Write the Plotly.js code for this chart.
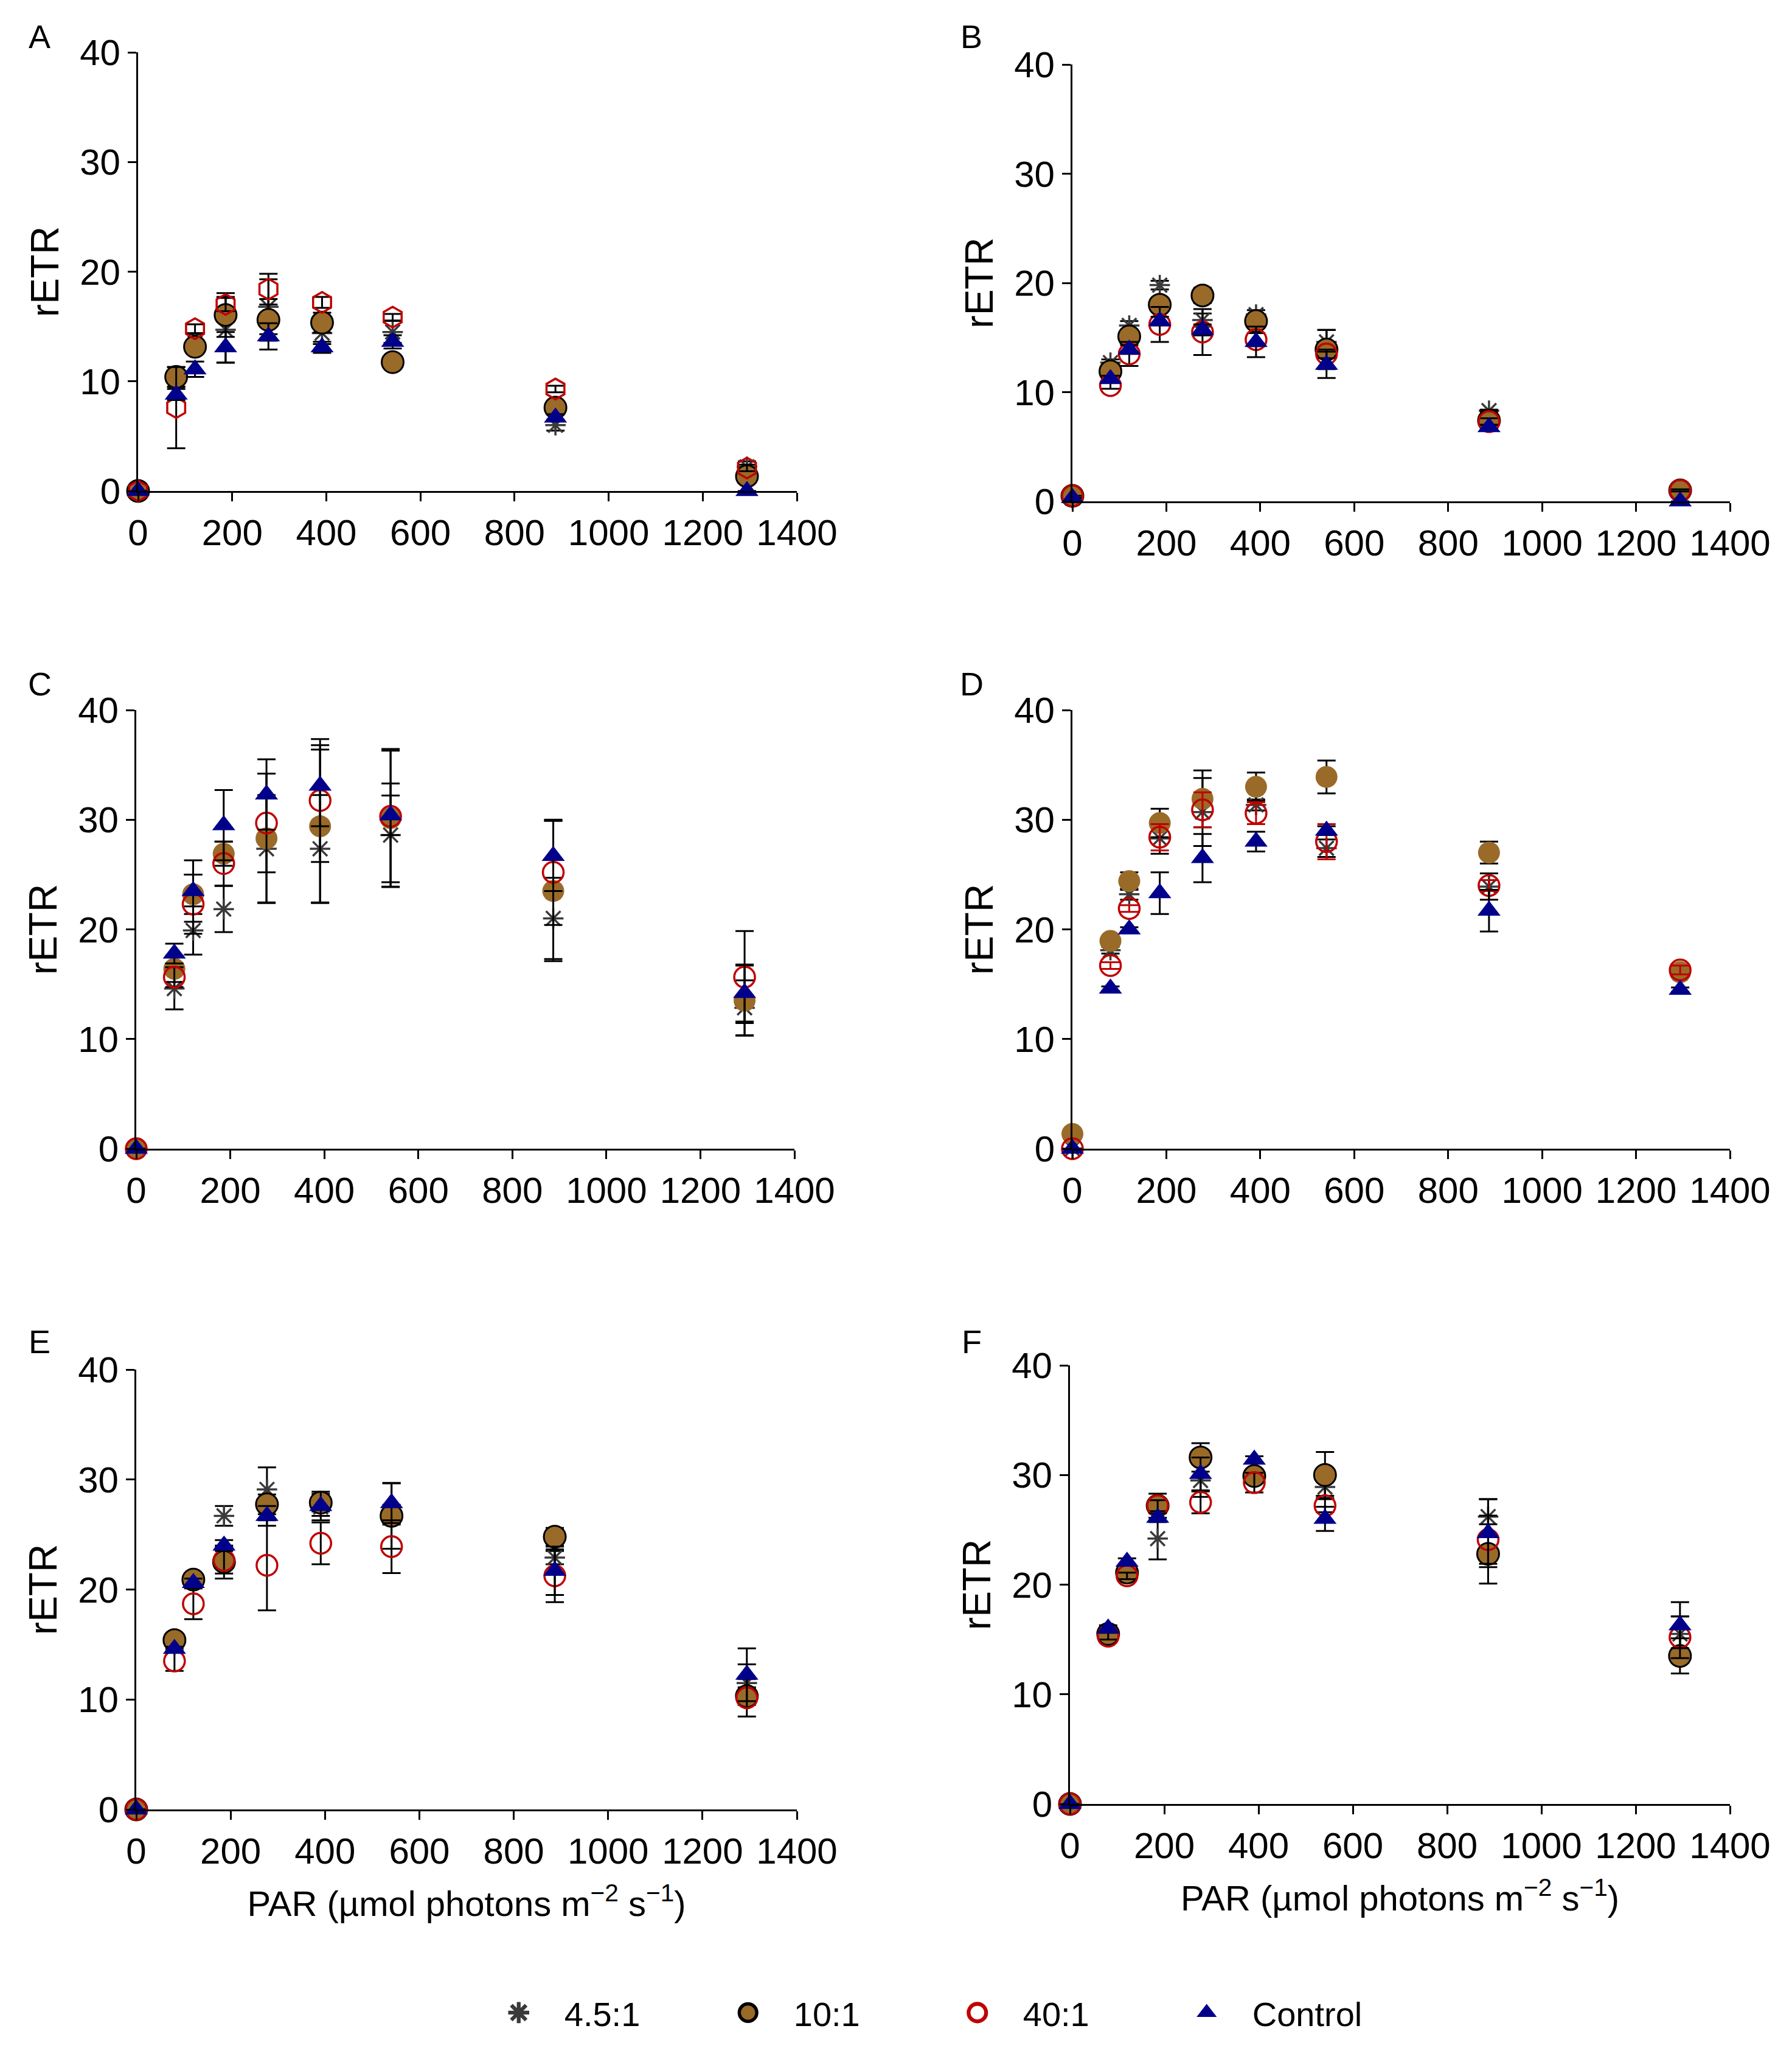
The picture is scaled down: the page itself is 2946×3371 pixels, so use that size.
<!DOCTYPE html>
<html>
<head>
<meta charset="utf-8">
<script src="https://cdn.plot.ly/plotly-3.0.1.min.js"></script>
<style>
  html, body { margin: 0; padding: 0; background: #fff; }
  #chart { width: 2946px; height: 3371px; }
</style>
</head>
<body>
<div id="chart"></div>
<script>
// PAR steps of the rapid light curve (µmol photons m-2 s-1)
const PAR = [0, 81, 121, 186, 277, 391, 541, 887, 1294]
const seriesNames = ['4.5:1', '10:1', '40:1', 'Control']
const panelLetters = ['A', 'B', 'C', 'D', 'E', 'F']

// panel A
const aAst = [0, 10.0, 13.5, 14.7, 16.8, 14.4, 14.5, 6.0, 2.2]
const aAstErr = [null, 0.5, 0.8, 3.0, 2.5, 1.0, 1.0, 0.5, 0.5]
const a10 = [0, 10.4, 13.15, 16.05, 15.6, 15.35, 11.75, 7.6, 1.35]
const a10Err = [null, 0.9, 0.6, 2.0, 1.9, 0.9, 0.5, 0.4, 0.4]
const a40 = [0, 7.6, 14.8, 17.0, 18.4, 17.2, 15.85, 9.3, 2.1]
const a40Err = [null, 3.7, 0.4, 0.6, 1.4, 0.5, 0.3, 0.3, 0.3]
const aCtl = [0, 8.8, 11.1, 13.1, 14.1, 13.1, 13.6, 6.7, 0]
const aCtlErr = [null, 0.5, 0.7, 1.4, 1.2, 0.5, 0.6, 0.3, null]

// panel B
const bAst = [0.3, 12.7, 16.1, 19.8, 16.6, 17.1, 14.6, 8.3, 0.8]
const bAstErr = [null, 0.3, 0.4, 0.4, 0.6, 0.4, 1.1, 0.1, 0.1]
const b10 = [0.5, 11.9, 15.1, 18.0, 18.85, 16.5, 13.9, 7.4, 1.0]
const b10Err = [null, 0.4, 0.3, 0.4, 0.7, 0.4, 1.8, 0.9, 0.1]
const b40 = [0.5, 10.6, 13.5, 16.2, 15.5, 14.8, 13.5, 7.3, 1.0]
const b40Err = [null, 0.3, 1.1, 1.6, 2.1, 0.6, 0.4, 0.3, 0.1]
const bCtl = [0.3, 11.2, 13.9, 16.5, 15.7, 14.6, 12.5, 6.8, 0]
const bCtlErr = [null, 0.3, 0.4, 0.4, 0.5, 1.4, 1.2, 0.2, null]

// panel C
const cAst = [0, 14.6, 19.9, 21.85, 27.35, 27.35, 28.6, 21.0, 12.85]
const cAstErr = [null, 1.9, 2.2, 2.1, 4.9, 4.9, 4.7, 3.7, 2.5]
const c10 = [0, 16.4, 23.2, 26.9, 28.3, 29.4, 30.15, 23.5, 13.5]
const c10Err = [null, 1.2, 1.8, 1.1, 5.9, 7.0, 6.3, 6.4, 3.2]
const c40 = [0, 15.65, 22.3, 26.0, 29.7, 31.75, 30.3, 25.2, 15.65]
const c40Err = [null, 0.9, 2.7, 2.0, 4.5, 5.6, 6.0, 4.8, 4.2]
const cCtl = [0, 17.8, 23.5, 29.5, 32.3, 33.1, 30.4, 26.7, 14.2]
const cCtlErr = [null, 0.9, 2.8, 3.2, 3.2, 3.7, 1.8, 3.2, 2.6]

// panel D
const dAst = [0, 18.1, 23.2, 28.3, 30.7, 31.35, 27.4, 23.9, 16.0]
const dAstErr = [null, 0.3, 0.5, 1.4, 3.1, 0.5, 0.8, 1.2, 0.3]
const d10 = [1.35, 18.95, 24.4, 29.7, 31.9, 33.0, 33.9, 27.0, 16.1]
const d10Err = [null, 0.3, 0.8, 1.3, 2.6, 1.3, 1.5, 1.0, 0.3]
const d40 = [0, 16.7, 21.9, 28.4, 30.9, 30.6, 28.0, 24.0, 16.3]
const d40Err = [null, 0.3, 0.3, 1.2, 1.6, 1.0, 1.6, 0.5, 0.4]
const dCtl = [0, 14.6, 20.0, 23.3, 26.5, 28.0, 29.0, 21.7, 14.5]
const dCtlErr = [null, 0.2, 0.2, 1.9, 2.2, 0.9, 0.4, 1.9, 0.2]

// panel E
const eAst = [0, 15.0, 20.8, 26.7, 29.1, 27.5, 26.8, 22.9, 11.5]
const eAstErr = [null, 0.4, 0.5, 0.9, 2.0, 0.8, 0.9, 0.6, 1.7]
const e10 = [0, 15.4, 20.9, 22.5, 27.75, 27.9, 26.7, 24.8, 10.3]
const e10Err = [null, 0.3, 0.5, 1.5, 0.9, 0.8, 3.0, 0.8, 0.8]
const e40 = [0, 13.5, 18.7, 22.65, 22.2, 24.2, 23.9, 21.25, 10.15]
const e40Err = [null, 0.9, 1.4, 1.2, 4.1, 1.9, 2.4, 2.4, 1.7]
const eCtl = [0, 14.6, 20.6, 24.0, 26.7, 27.6, 27.85, 21.7, 12.25]
const eCtlErr = [null, 0.2, 0.4, 0.5, 0.9, 1.3, 1.8, 2.2, 2.4]

// panel F
const fAst = [0, 15.5, 21.0, 24.2, 29.5, 30.0, 28.9, 26.2, 15.5]
const fAstErr = [null, 0.3, 0.3, 1.9, 1.5, 0.5, 0.8, 1.6, 1.6]
const f10 = [0, 15.5, 21.1, 27.2, 31.6, 29.9, 30.0, 22.8, 13.5]
const f10Err = [null, 0.3, 0.3, 1.1, 1.3, 0.4, 2.1, 2.7, 1.6]
const f40 = [0, 15.3, 20.8, 27.2, 27.5, 29.3, 27.2, 24.1, 15.2]
const f40Err = [null, 0.3, 0.3, 0.5, 1.0, 0.9, 0.6, 2.2, 1.9]
const fCtl = [0, 16.0, 22.1, 26.1, 30.1, 31.4, 26.0, 24.7, 16.3]
const fCtlErr = [null, 0.3, 0.3, 0.4, 1.5, 0.3, 1.1, 3.1, 2.1]

const panelData = [
  [[aAst, aAstErr], [a10, a10Err], [a40, a40Err], [aCtl, aCtlErr]],
  [[bAst, bAstErr], [b10, b10Err], [b40, b40Err], [bCtl, bCtlErr]],
  [[cAst, cAstErr], [c10, c10Err], [c40, c40Err], [cCtl, cCtlErr]],
  [[dAst, dAstErr], [d10, d10Err], [d40, d40Err], [dCtl, dCtlErr]],
  [[eAst, eAstErr], [e10, e10Err], [e40, e40Err], [eCtl, eCtlErr]],
  [[fAst, fAstErr], [f10, f10Err], [f40, f40Err], [fCtl, fCtlErr]]
]

// plot areas in pixels: [left, right, top(40), bottom(0)]
const W = 2946, H = 3371
const boxes = [
  [227, 1310, 86, 807],
  [1763, 2844, 106, 824],
  [224, 1306, 1167, 1888],
  [1763, 2844, 1167, 1888],
  [224, 1310, 2251, 2974],
  [1759, 2844, 2244, 2965]
]

const FONT = 'Liberation Sans, Arial, sans-serif'
const BROWN = '#9a6a28'

function markerFor(s, p) {
  if (s == 0) return { symbol: 'asterisk-open', size: 28, color: '#3a3a3a', line: { color: '#3a3a3a', width: 3.5 } }
  if (s == 1) return { symbol: 'circle', size: 36, color: BROWN, line: { color: '#000', width: (p == 2 || p == 3) ? 0 : 3 } }
  if (s == 2) return { symbol: p == 0 ? 'hexagon-open' : 'circle-open', size: 34, color: '#c00000', line: { color: '#c00000', width: 3.5 } }
  return { symbol: 'triangle-up', size: 33, color: '#00008b', line: { width: 0 } }
}

let traces = []
let layout = {
  width: W, height: H,
  margin: { l: 0, r: 0, t: 0, b: 0 },
  paper_bgcolor: '#fff', plot_bgcolor: '#fff',
  font: { family: FONT, color: '#000', size: 60 },
  showlegend: true,
  legend: {
    orientation: 'h', x: 0.264, xanchor: 'left', y: 1 - 3308 / H, yanchor: 'middle',
    font: { family: FONT, size: 56, color: '#000' },
    itemwidth: 140, entrywidth: 222, entrywidthmode: 'pixels',
    traceorder: 'normal'
  },
  annotations: []
}

panelData.forEach((series, p) => {
  let sfx = p == 0 ? '' : String(p + 1)
  series.forEach(([ys, errs], s) => {
    traces.push({
      x: PAR, y: ys, type: 'scatter', mode: 'markers',
      name: seriesNames[s], showlegend: p == 1, legendrank: s,
      xaxis: 'x' + sfx, yaxis: 'y' + sfx, cliponaxis: false,
      marker: markerFor(s, p),
      error_y: { type: 'data', array: errs, visible: true, color: (p == 3 && s == 2) ? '#c00000' : '#000', thickness: 3, width: 15 }
    })
  })
  let [l, r, t, b] = boxes[p]
  let xa = {
    domain: [l / W, r / W], anchor: 'y' + sfx, range: [0, 1400], tick0: 0, dtick: 200,
    ticks: 'outside', ticklen: 14, tickwidth: 3, tickcolor: '#000',
    showline: true, linewidth: 3, linecolor: '#000', showgrid: false, zeroline: false,
    tickfont: { family: FONT, size: 60, color: '#000' }, fixedrange: true
  }
  if (p >= 4) {
    xa.title = { text: 'PAR (µmol photons m<sup>−2</sup> s<sup>−1</sup>)', font: { family: FONT, size: 58, color: '#000' }, standoff: 34 }
  }
  let ya = {
    domain: [1 - b / H, 1 - t / H], anchor: 'x' + sfx, range: [0, 40], tick0: 0, dtick: 10,
    ticks: 'outside', ticklen: 14, tickwidth: 3, tickcolor: '#000',
    showline: true, linewidth: 3, linecolor: '#000', showgrid: false, zeroline: false,
    tickfont: { family: FONT, size: 60, color: '#000' }, fixedrange: true,
    title: { text: 'rETR', font: { family: FONT, size: 64, color: '#000' }, standoff: 14 }
  }
  layout['xaxis' + sfx] = xa
  layout['yaxis' + sfx] = ya
  layout.annotations.push({
    text: panelLetters[p], xref: 'paper', yref: 'paper', showarrow: false,
    x: (p % 2 == 0 ? 65 : 1597) / W, y: 1 - [60, 60, 1124, 1124, 2205, 2205][p] / H,
    xanchor: 'center', yanchor: 'middle', font: { family: FONT, size: 54, color: '#000' }
  })
})

Plotly.newPlot('chart', traces, layout, { staticPlot: true }).then(gd => {
  // legend symbols are capped in size by plotly, enlarge them to match the figure
  gd.querySelectorAll('.legend .legendpoints path.scatterpts').forEach(el => {
    let tr = el.getAttribute('transform') || ''
    el.setAttribute('transform', tr + ' scale(1.8)')
  })
})
</script>
</body>
</html>
